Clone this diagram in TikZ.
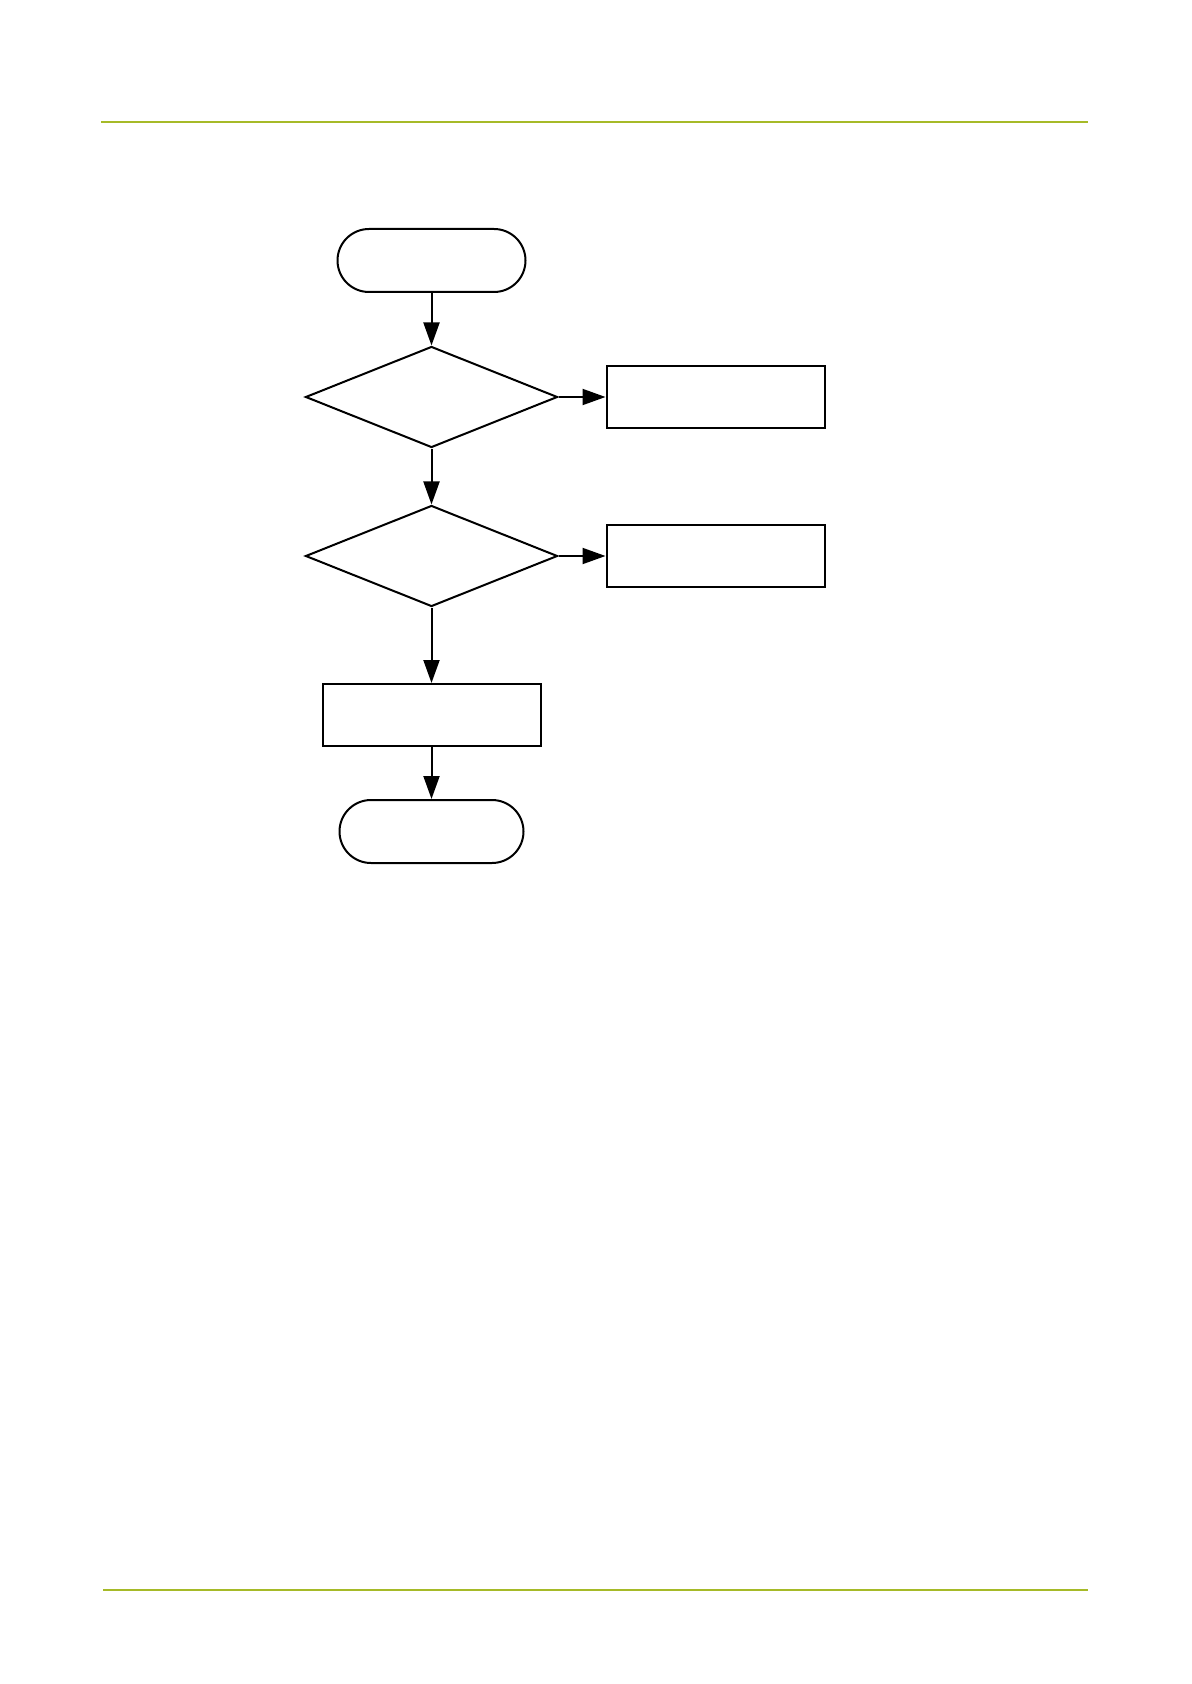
\documentclass[tikz,border=0pt]{standalone}
\usetikzlibrary{shapes.geometric,arrows.meta}
\definecolor{rulegreen}{RGB}{166,186,40}

\begin{document}
\begin{tikzpicture}[
    x=0.5pt, y=-0.5pt,
    terminal/.style={rectangle, draw, line width=1pt, rounded corners=15.75pt, minimum width=94pt, minimum height=31.5pt, inner sep=0pt},
    decision/.style={diamond, draw, line width=1pt, minimum width=126pt, minimum height=50.5pt, inner sep=0pt},
    process/.style={rectangle, draw, line width=1pt, minimum width=109pt, minimum height=31pt, inner sep=0pt},
    flow/.style={-{Triangle[length=11.5pt,width=8pt]}, line width=1pt},
    pagerule/.style={draw=rulegreen, line width=1.2pt}
]

% Page frame
\useasboundingbox (0,0) rectangle (1191,1684);

% Header and footer rules
\coordinate (hdrL) at (101,122);
\coordinate (hdrR) at (1088,122);
\coordinate (ftrL) at (103,1590);
\coordinate (ftrR) at (1088,1590);
\draw[pagerule] (hdrL) -- (hdrR);
\draw[pagerule] (ftrL) -- (ftrR);

% Main column
\node[terminal] (start) at (431.5,260.5) {};
\node[decision] (check1) at (431.5,397) {};
\node[decision] (check2) at (431.5,556) {};
\node[process] (action) at (431.5,715) {};
\node[terminal, minimum width=92pt] (finish) at (431.5,831.5) {};

% Side branches
\node[process] (branch1) at (715.5,397) {};
\node[process] (branch2) at (715.5,556) {};

% Flows
\draw[flow] (start) -- (check1);
\draw[flow] (check1) -- (check2);
\draw[flow] (check2) -- (action);
\draw[flow] (action) -- (finish);
\draw[flow] (check1) -- (branch1);
\draw[flow] (check2) -- (branch2);

\end{tikzpicture}
\end{document}
